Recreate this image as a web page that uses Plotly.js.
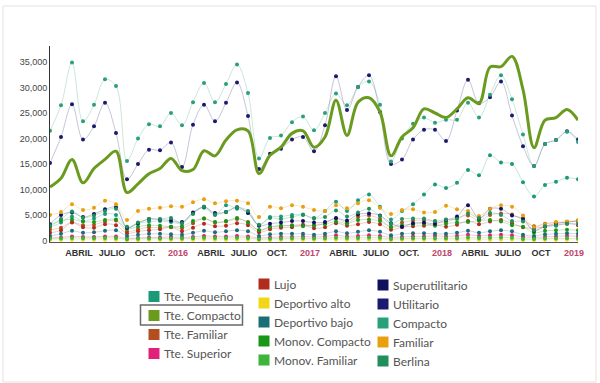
<!DOCTYPE html>
<html><head><meta charset="utf-8">
<script src="https://cdn.plot.ly/plotly-3.0.1.min.js"></script>
<style>html,body{margin:0;padding:0;background:#fff}#chart{width:600px;height:383px}</style>
</head><body><div id="chart"></div>
<script>
// Months (Jan 2015 - Jan 2019)
const months = [
 'Ene 2015','Feb 2015','Mar 2015','Abr 2015','May 2015','Jun 2015','Jul 2015','Ago 2015','Sep 2015','Oct 2015','Nov 2015','Dic 2015',
 'Ene 2016','Feb 2016','Mar 2016','Abr 2016','May 2016','Jun 2016','Jul 2016','Ago 2016','Sep 2016','Oct 2016','Nov 2016','Dic 2016',
 'Ene 2017','Feb 2017','Mar 2017','Abr 2017','May 2017','Jun 2017','Jul 2017','Ago 2017','Sep 2017','Oct 2017','Nov 2017','Dic 2017',
 'Ene 2018','Feb 2018','Mar 2018','Abr 2018','May 2018','Jun 2018','Jul 2018','Ago 2018','Sep 2018','Oct 2018','Nov 2018','Dic 2018',
 'Ene 2019'];

const tickMonths = ['Abr 2015','Jul 2015','Oct 2015','Ene 2016','Abr 2016','Jul 2016','Oct 2016','Ene 2017','Abr 2017','Jul 2017','Oct 2017','Ene 2018','Abr 2018','Jul 2018','Oct 2018','Ene 2019'];
const tickLabels = ['ABRIL','JULIO','OCT.','2016','ABRIL','JULIO','OCT.','2017','ABRIL','JULIO','OCT.','2018','ABRIL','JULIO','OCT','2019'];
const yearTicks = ['2016','2017','2018','2019'];

const tteCompacto = [10500,12200,15900,11300,14100,15900,17500,9400,11100,13100,14100,16100,
 13700,13900,17600,16600,19700,21700,21500,13100,16700,18300,21000,21500,
 18300,20300,27500,20600,27100,28000,25200,16600,20300,22100,25800,25000,
 24100,25800,28000,26900,34000,34100,36100,29600,18200,23600,24100,25700,
 23600];
const compacto = [21500,26500,34900,23400,26600,31600,30300,15600,20000,22800,22400,25000,
 22600,27100,30900,27100,30700,34500,28900,16100,20100,20600,23200,24300,
 21600,25000,28800,26500,30100,31200,26600,15500,20000,22900,24100,23100,
 23700,23700,27000,24100,28600,32400,27700,20800,14600,18900,19700,21300,
 19300];
const utilitario = [15200,20300,26700,19800,22400,27000,21100,12000,15000,17800,17700,19200,
 14400,22700,26600,23400,27000,31000,24400,14000,17000,18000,19800,20300,
 17500,22600,32200,25600,30100,32400,25200,15000,15900,19800,21700,21700,
 19500,25500,31500,26900,28100,31200,24500,18500,14600,18900,19700,21400,
 19800];
const ttePequeno = [2600,3500,4700,3800,4300,5200,5000,2500,3300,3700,3800,3600,
 3400,5400,6400,5000,6900,6200,5500,3000,4600,4700,5000,5100,
 4300,5800,7600,5800,7900,9000,6600,4100,5800,7100,9000,11000,
 10300,11300,13800,12800,16700,15300,15000,11400,8600,10900,11500,12300,
 12000];
const familiar = [5000,5600,7100,6000,6400,7800,7100,4000,5800,6200,6400,6700,
 6600,7500,8100,7300,7700,7800,7300,4600,6600,6300,6900,6600,
 6000,5800,6900,6300,7300,7900,6400,5200,6000,6100,5500,5600,
 6800,6100,5800,4800,6200,6900,6600,4900,2600,3200,3600,3700,
 3900];
const berlina = [3000,4200,5700,4500,4900,5800,6200,2700,3500,4200,4200,4400,
 3400,5200,6600,5100,5600,6500,5800,3100,4400,4200,4600,5000,
 4400,4600,5900,4700,5500,6200,4800,3300,4200,4300,4300,3800,
 4100,4200,5300,4400,5400,5000,3800,3700,2000,2800,2900,3300,
 3300];
const superutilitario = [3200,5000,5500,4600,5200,6100,6500,2500,3400,4200,4100,3900,
 3600,5500,6600,5400,5600,6500,5400,2900,3300,3500,3800,3800,
 3500,3600,4400,3900,5100,5300,4900,3400,2700,3400,3500,3300,
 4000,4700,6900,4300,6200,6200,4900,4300,1900,2800,3300,3600,
 3800];
const monovCompacto = [2800,3900,4100,3700,3600,4000,4100,2300,2700,3000,2900,2700,
 2800,3800,4300,3600,3800,4400,3500,2000,2700,2900,2900,2800,
 3000,3200,3700,3300,4000,4100,3800,2600,3000,3200,3300,2900,
 3300,3500,3600,3900,4000,3700,3000,2700,1500,1900,2000,2100,
 2000];
const tteFamiliar = [2100,2500,3600,3000,3100,3700,3900,1800,2200,2600,2500,2700,
 2400,3400,4300,3500,3700,4200,3600,2000,2600,2800,3000,3100,
 2900,3400,4300,3500,4600,4900,4200,2700,3500,3900,4000,3700,
 3600,4400,4900,3900,5000,5300,5100,4000,2800,3300,3500,3600,
 3900];
const lujo = [1500,2000,3500,2600,2500,3200,3000,1400,1800,2000,2200,2600,
 1800,2500,3300,2800,2900,3400,3000,1600,2200,2500,2600,3000,
 2400,2600,3400,2900,3200,3600,3200,2100,2600,2800,2900,3100,
 2700,3100,3800,3200,3700,4000,3400,2600,2400,2700,3000,3300,
 3000];
const deportivoBajo = [900,1300,1900,1500,1600,1900,2000,900,1100,1300,1300,1200,
 1100,1500,1900,1600,1800,2000,1800,900,1200,1300,1300,1300,
 1100,1300,1800,1400,1700,2000,1700,1000,1300,1400,1400,1300,
 1300,1500,1900,1500,1800,2000,1800,1100,900,1200,1300,1400,
 1300];
const tteSuperior = [500,600,800,700,700,800,800,400,500,600,600,700,
 600,700,900,800,800,900,800,500,600,700,700,800,
 700,800,1000,800,900,1000,900,600,700,800,800,900,
 800,900,1100,900,1000,1100,1000,700,600,700,800,900,
 800];
const monovFamiliar = [350,400,500,450,450,500,500,250,350,400,400,400,
 380,420,520,460,480,540,500,260,360,400,420,430,
 400,430,550,470,500,560,520,280,380,420,430,440,
 420,450,560,480,520,580,540,300,300,380,400,420,
 400];
const deportivoAlto = [120,130,160,140,140,160,150,90,110,120,120,130,
 120,130,170,150,150,170,150,90,110,120,130,130,
 120,140,170,150,160,180,160,100,120,130,130,140,
 130,140,180,150,160,190,170,110,100,120,130,140,
 130];

// legend columns (col index, row index)
const series = [
  {name:'Tte. Pequeño', y:ttePequeno, color:'#1b9a78', col:0, row:0},
  {name:'Tte. Compacto', y:tteCompacto, color:'#6a9b1f', col:0, row:1, main:true},
  {name:'Tte. Familiar', y:tteFamiliar, color:'#b34e22', col:0, row:2},
  {name:'Tte. Superior', y:tteSuperior, color:'#e0207a', col:0, row:3},
  {name:'Lujo', y:lujo, color:'#b02c1c', col:1, row:0},
  {name:'Deportivo alto', y:deportivoAlto, color:'#f0d818', col:1, row:1},
  {name:'Deportivo bajo', y:deportivoBajo, color:'#1a6e75', col:1, row:2},
  {name:'Monov. Compacto', y:monovCompacto, color:'#18961a', col:1, row:3},
  {name:'Monov. Familiar', y:monovFamiliar, color:'#3db53a', col:1, row:4},
  {name:'Superutilitario', y:superutilitario, color:'#10105e', col:2, row:0},
  {name:'Utilitario', y:utilitario, color:'#1a1a6e', col:2, row:1},
  {name:'Compacto', y:compacto, color:'#2aa07a', col:2, row:2},
  {name:'Familiar', y:familiar, color:'#e8a010', col:2, row:3},
  {name:'Berlina', y:berlina, color:'#1f8f5c', col:2, row:4}
];

function rgba(hex, a){
  const r=parseInt(hex.slice(1,3),16), g=parseInt(hex.slice(3,5),16), b=parseInt(hex.slice(5,7),16);
  return `rgba(${r},${g},${b},${a})`;
}

const traces = [];
series.filter(s=>!s.main).forEach(s=>{
  traces.push({type:'scatter', mode:'lines+markers', x:months, y:s.y, name:s.name, showlegend:false,
    line:{shape:'spline', smoothing:1, width:1, color:rgba(s.color,0.25)},
    marker:{size:4, color:s.color}});
});
series.filter(s=>s.main).forEach(s=>{
  traces.push({type:'scatter', mode:'lines', x:months, y:s.y, name:s.name, showlegend:false,
    line:{shape:'spline', smoothing:1, width:3, color:s.color}});
});

const ticktext = tickLabels.map(t => yearTicks.includes(t) ? `<span style="color:#c2456a">${t}</span>` : t);

// pixel -> paper helpers (plot area: x 50..578, y 46..242)
const L=50, R=22, T=46, B=141, W=600-L-R, H=383-T-B;
const px = v => (v-L)/W;
const py = v => (383-B-v)/H;

// custom legend (three columns)
const colSwatchX = [148.5, 258.5, 377.5];
const colTextX = [162, 272, 391];
const colTopY = [296.5, 284, 285];
const rowGap = 19;
const shapes = [];
const annotations = [];
series.forEach(s=>{
  const cy = colTopY[s.col] + s.row*rowGap;
  shapes.push({type:'rect', xref:'paper', yref:'paper', x0:px(colSwatchX[s.col]), x1:px(colSwatchX[s.col]+11),
    y0:py(cy+5.5), y1:py(cy-5.5), line:{width:0}, fillcolor:s.color});
  annotations.push({xref:'paper', yref:'paper', x:px(colTextX[s.col]), y:py(cy), xanchor:'left', yanchor:'middle',
    text:s.name, showarrow:false, font:{family:'Lato, Open Sans, sans-serif', size:12, color:'#555'}});
});
// highlight box around Tte. Compacto
shapes.push({type:'rect', xref:'paper', yref:'paper', x0:px(140.5), x1:px(242.5), y0:py(325), y1:py(305),
  line:{color:'#6a6a6a', width:1.5}, fillcolor:'rgba(0,0,0,0)'});
// outer frame
shapes.push({type:'rect', xref:'paper', yref:'paper', x0:px(3), x1:px(596), y0:py(382), y1:py(6),
  line:{color:'#e2e2e2', width:1}, fillcolor:'rgba(0,0,0,0)'});

const layout = {
  width:600, height:383,
  margin:{l:L, r:R, t:T, b:B},
  paper_bgcolor:'#fff', plot_bgcolor:'#fff',
  font:{family:'Liberation Sans, Arial, sans-serif', size:9, color:'#444'},
  showlegend:false,
  xaxis:{type:'category', range:[0,48], tickvals:tickMonths, ticktext:ticktext, showgrid:false, zeroline:false,
    showline:true, linecolor:'#555', linewidth:1, ticks:'', ticklabelshift:-4, ticklabelstandoff:2,
    tickfont:{family:'Liberation Sans, Arial, sans-serif', size:9, color:'#333', weight:'bold'}},
  yaxis:{range:[-300,38140], tickvals:[0,5000,10000,15000,20000,25000,30000,35000], tickformat:',',
    showgrid:false, zeroline:false, showline:true, linecolor:'#333', linewidth:1, ticks:'',
    tickfont:{family:'Liberation Sans, Arial, sans-serif', size:9, color:'#444'}},
  shapes:shapes,
  annotations:annotations
};

Plotly.newPlot('chart', traces, layout, {displayModeBar:false, staticPlot:true});
</script></body></html>
